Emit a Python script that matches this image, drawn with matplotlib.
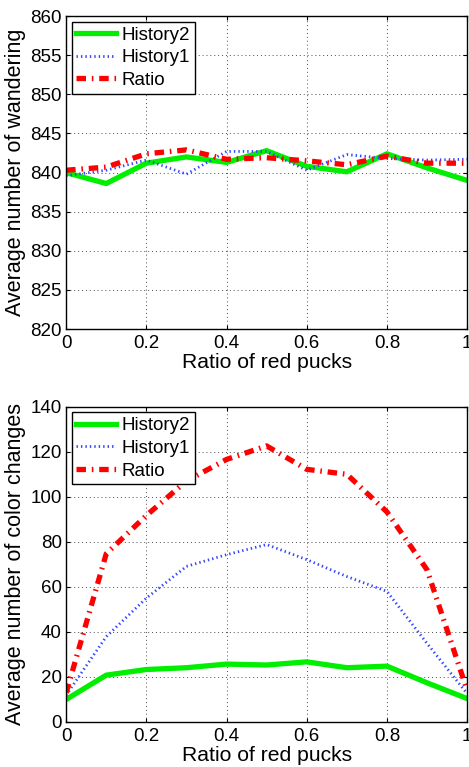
import numpy as np
import matplotlib
matplotlib.use("Agg")
import matplotlib.pyplot as plt

plt.rcParams["font.family"] = ["Liberation Sans", "DejaVu Sans"]

# ============================================================
# DANE
# ============================================================
ratio = [0.0, 0.1, 0.2, 0.3, 0.4, 0.5, 0.6, 0.7, 0.8, 0.9, 1.0]

wander_history2 = [840.0, 838.6, 841.2, 842.0, 841.3, 842.8, 840.8, 840.1, 842.4, 840.6, 839.0]
wander_history1 = [839.6, 840.3, 841.6, 839.8, 842.7, 842.7, 840.3, 842.3, 841.8, 841.6, 841.7]
wander_ratio = [840.3, 840.7, 842.4, 842.9, 841.7, 841.9, 841.5, 841.0, 842.1, 841.2, 841.2]

color_history2 = [10.0, 20.8, 23.3, 24.1, 25.7, 25.3, 26.7, 24.1, 24.8, 17.4, 10.4]
color_history1 = [11.9, 37.9, 55.0, 69.1, 74.3, 78.8, 72.1, 64.6, 58.0, 34.9, 12.6]
color_ratio = [12.9, 74.7, 91.7, 107.0, 116.6, 122.6, 112.2, 110.0, 93.3, 67.6, 14.1]

x_ticks = [0, 0.2, 0.4, 0.6, 0.8, 1]
x_ticklabels = ["0", "0.2", "0.4", "0.6", "0.8", "1"]


def draw_panel(ax, h2, h1, r, ylim, yticks, ylabel):
    ax.plot(ratio, h2, color="#00ee00", lw=3.8, ls="-", label="History2")
    ax.plot(ratio, h1, color="#3344ff", lw=2.0, ls=(0, (0.5, 1.1)), label="History1")
    ax.plot(ratio, r, color="#ff0000", lw=3.8, ls=(0, (1.8, 1.1, 0.3, 1.1)), label="Ratio")
    ax.set_xlim(0, 1)
    ax.set_ylim(*ylim)
    ax.set_xticks(x_ticks)
    ax.set_xticklabels(x_ticklabels)
    ax.set_yticks(yticks)
    ax.tick_params(direction="in", labelsize=13.5, length=3, top=True, right=True)
    ax.tick_params(axis="x", pad=4)
    ax.tick_params(axis="y", pad=3)
    ax.grid(True, ls=(0, (1, 3)), color="black", lw=0.7, alpha=0.7)
    ax.set_xlabel("Ratio of red pucks", fontsize=15.2, labelpad=1)
    ax.set_ylabel(ylabel, fontsize=15.5, labelpad=3)
    for s in ax.spines.values():
        s.set_linewidth(1.0)
    leg = ax.legend(loc="upper left", fontsize=13.5, fancybox=False, framealpha=1,
                    edgecolor="black", handlelength=2.1, handletextpad=0.3,
                    borderaxespad=0.3, borderpad=0.25, labelspacing=0.3)
    leg.get_frame().set_linewidth(1.0)


fig = plt.figure(figsize=(4.69, 7.67), dpi=100)
ax1 = fig.add_axes([0.141, 0.571, 0.855, 0.408])
ax2 = fig.add_axes([0.141, 0.0587, 0.855, 0.411])

draw_panel(ax1, wander_history2, wander_history1, wander_ratio, (820, 860),
           np.arange(820, 861, 5), "Average number of wandering")
draw_panel(ax2, color_history2, color_history1, color_ratio, (0, 140),
           np.arange(0, 141, 20), "Average number of color changes")

fig.savefig("out.png", dpi=100)
